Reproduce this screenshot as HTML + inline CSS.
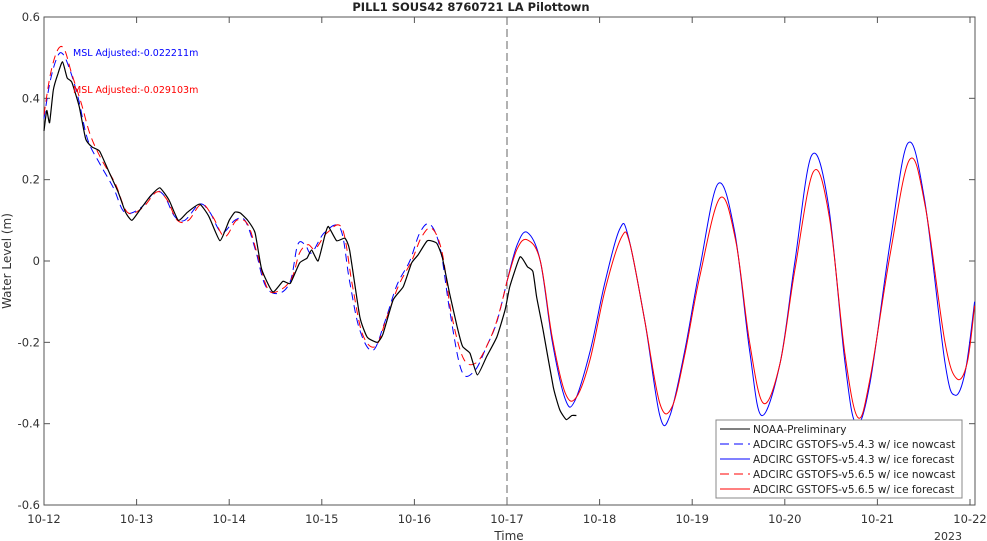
<!DOCTYPE html>
<html><head><meta charset="utf-8"><style>
body{margin:0;background:#fff;}
svg{display:block;font-family:"DejaVu Sans","Liberation Sans",sans-serif;}
</style></head><body>
<svg id="chart" width="987" height="541">
<rect width="987" height="541" fill="#fff"/>
<text x="471" y="11" text-anchor="middle" font-size="11.5" font-weight="bold" fill="#222">PILL1 SOUS42 8760721 LA Pilottown</text>
<text transform="translate(11,261) rotate(-90)" text-anchor="middle" font-size="12" fill="#333">Water Level (m)</text>
<text x="509" y="540" text-anchor="middle" font-size="12" fill="#333">Time</text>
<text x="948" y="540" text-anchor="middle" font-size="11" fill="#333">2023</text>
<g id="axes"></g>
<g id="series"></g>
<text x="73" y="56" font-size="9.5" fill="#0000ff">MSL Adjusted:-0.022211m</text>
<text x="73" y="93" font-size="9.5" fill="#ff0000">MSL Adjusted:-0.029103m</text>
<g>
<rect x="716" y="420" width="246" height="78" fill="#fff" stroke="#888" stroke-width="1"/>
<line x1="720" y1="429" x2="750" y2="429" stroke="#000"/><text x="753" y="433" font-size="10.5" fill="#222">NOAA-Preliminary</text>
<line x1="720" y1="444" x2="750" y2="444" stroke="#00f" stroke-dasharray="9,5"/><text x="753" y="448" font-size="10.5" fill="#222">ADCIRC GSTOFS-v5.4.3 w/ ice nowcast</text>
<line x1="720" y1="459" x2="750" y2="459" stroke="#00f"/><text x="753" y="463" font-size="10.5" fill="#222">ADCIRC GSTOFS-v5.4.3 w/ ice forecast</text>
<line x1="720" y1="474" x2="750" y2="474" stroke="#f00" stroke-dasharray="9,5"/><text x="753" y="478" font-size="10.5" fill="#222">ADCIRC GSTOFS-v5.6.5 w/ ice nowcast</text>
<line x1="720" y1="489" x2="750" y2="489" stroke="#f00"/><text x="753" y="493" font-size="10.5" fill="#222">ADCIRC GSTOFS-v5.6.5 w/ ice forecast</text>
</g>
</svg>
<script>
const xTickLabels=["10-12","10-13","10-14","10-15","10-16","10-17","10-18","10-19","10-20","10-21","10-22"];
const yTicks=[-0.6,-0.4,-0.2,0,0.2,0.4,0.6];
const blueNowT=[0,0.065,0.14,0.2,0.28,0.37,0.47,0.6,0.75,0.87,1.04,1.2,1.3,1.41,1.52,1.68,1.79,1.92,2.06,2.17,2.28,2.39,2.53,2.66,2.74,2.82,2.89,3.03,3.2,3.3,3.41,3.55,3.68,3.81,3.95,4.06,4.17,4.28,4.38,4.51,4.65,4.78,4.89,5.0];
const blueNowV=[0.35,0.44,0.5,0.51,0.47,0.4,0.3,0.24,0.18,0.12,0.13,0.17,0.16,0.11,0.1,0.14,0.12,0.07,0.1,0.1,0.03,-0.06,-0.08,-0.05,0.04,0.04,0.02,0.07,0.08,-0.05,-0.17,-0.22,-0.15,-0.06,0.0,0.07,0.09,0.03,-0.12,-0.27,-0.27,-0.21,-0.15,-0.05];
const redNowT=[0,0.07,0.15,0.22,0.3,0.4,0.5,0.62,0.77,0.9,1.06,1.22,1.33,1.44,1.56,1.7,1.82,1.95,2.08,2.2,2.3,2.42,2.56,2.68,2.76,2.85,2.93,3.06,3.22,3.33,3.44,3.58,3.7,3.83,3.97,4.08,4.19,4.3,4.4,4.53,4.67,4.8,4.9,5.0];
const redNowV=[0.36,0.46,0.52,0.52,0.46,0.39,0.31,0.25,0.19,0.12,0.13,0.17,0.15,0.1,0.1,0.14,0.11,0.06,0.1,0.09,0.02,-0.07,-0.07,-0.04,0.02,0.04,0.03,0.07,0.08,-0.06,-0.18,-0.21,-0.14,-0.06,0.0,0.06,0.08,0.02,-0.13,-0.24,-0.25,-0.2,-0.14,-0.05];
const blueFcT=[5.0,5.11,5.22,5.36,5.49,5.63,5.73,5.9,6.06,6.22,6.31,6.49,6.65,6.76,6.92,7.08,7.28,7.46,7.62,7.75,7.95,8.11,8.29,8.47,8.65,8.77,8.92,9.14,9.33,9.51,9.73,9.84,9.95,10.05];
const blueFcV=[-0.05,0.04,0.07,0.0,-0.2,-0.34,-0.345,-0.22,-0.05,0.08,0.06,-0.15,-0.38,-0.38,-0.22,-0.02,0.19,0.07,-0.22,-0.38,-0.25,0.0,0.26,0.14,-0.25,-0.4,-0.3,0.05,0.29,0.15,-0.25,-0.33,-0.27,-0.1];
const redFcT=[5.0,5.11,5.22,5.36,5.49,5.63,5.75,5.9,6.06,6.24,6.33,6.49,6.65,6.78,6.92,7.08,7.3,7.47,7.62,7.77,7.95,8.11,8.31,8.48,8.65,8.79,8.92,9.14,9.35,9.52,9.73,9.86,9.97,10.05];
const redFcV=[-0.05,0.03,0.052,0.0,-0.19,-0.325,-0.335,-0.24,-0.07,0.06,0.04,-0.15,-0.35,-0.36,-0.23,-0.04,0.155,0.05,-0.2,-0.35,-0.25,-0.02,0.22,0.11,-0.23,-0.385,-0.29,0.02,0.25,0.13,-0.2,-0.29,-0.25,-0.11];
const obsT=[0,0.03,0.06,0.1,0.15,0.2,0.25,0.3,0.38,0.45,0.52,0.6,0.7,0.8,0.88,0.95,1.05,1.15,1.25,1.35,1.45,1.55,1.68,1.78,1.9,2.0,2.06,2.12,2.2,2.28,2.35,2.47,2.58,2.66,2.76,2.84,2.89,2.96,3.03,3.07,3.16,3.25,3.3,3.41,3.49,3.6,3.66,3.77,3.88,3.97,4.04,4.14,4.24,4.3,4.38,4.46,4.52,4.6,4.68,4.78,4.89,4.98,5.03,5.14,5.22,5.28,5.32,5.39,5.5,5.57,5.64,5.7,5.75];
const obsV=[0.32,0.37,0.34,0.42,0.46,0.49,0.45,0.44,0.38,0.3,0.28,0.27,0.22,0.17,0.12,0.1,0.13,0.16,0.18,0.15,0.1,0.12,0.14,0.11,0.05,0.1,0.12,0.118,0.1,0.069,-0.02,-0.076,-0.05,-0.055,-0.005,0.007,0.027,0.0,0.06,0.085,0.05,0.056,0.027,-0.137,-0.187,-0.2,-0.18,-0.096,-0.063,-0.005,0.015,0.05,0.044,0.01,-0.08,-0.16,-0.21,-0.227,-0.28,-0.235,-0.187,-0.12,-0.063,0.01,-0.014,-0.026,-0.088,-0.17,-0.31,-0.366,-0.39,-0.38,-0.38];

const X0=44,DX=92.6,Y0=261,SY=406.7;
const xs=d=>X0+d*DX, ys=v=>Y0-v*SY;
const NS="http://www.w3.org/2000/svg";
const ax=document.getElementById('axes'), se=document.getElementById('series');
function mk(tag,attrs,parent){const e=document.createElementNS(NS,tag);for(const k in attrs)e.setAttribute(k,attrs[k]);parent.appendChild(e);return e;}
const fr=mk('rect',{x:44,y:17,width:931,height:488,fill:'none',stroke:'#555','stroke-width':1},ax);


xTickLabels.forEach((l,i)=>{const x=xs(i);
 mk('line',{x1:x,y1:505,x2:x,y2:499,stroke:'#555'},ax);
 mk('line',{x1:x,y1:17,x2:x,y2:23,stroke:'#555'},ax);
 const t=mk('text',{x:x,y:523,'text-anchor':'middle','font-size':11.5,fill:'#333'},ax);t.textContent=l;
 
 });
yTicks.forEach(v=>{const y=ys(v);
 mk('line',{x1:44,y1:y,x2:50,y2:y,stroke:'#555'},ax);
 mk('line',{x1:975,y1:y,x2:969,y2:y,stroke:'#555'},ax);
 const t=mk('text',{x:40,y:y+4,'text-anchor':'end','font-size':11.5,fill:'#333'},ax);t.textContent=(v===0?'0':v.toFixed(1));
 
 });
const vl=mk('line',{x1:xs(5),y1:17,x2:xs(5),y2:505,stroke:'#666','stroke-dasharray':'8,4'},ax);


function smoothPath(P,k){let d='M'+P[0][0].toFixed(1)+','+P[0][1].toFixed(1);
 for(let i=0;i<P.length-1;i++){const p0=P[i-1]||P[i],p1=P[i],p2=P[i+1],p3=P[i+2]||p2;
  const c1=[p1[0]+(p2[0]-p0[0])*k,p1[1]+(p2[1]-p0[1])*k],c2=[p2[0]-(p3[0]-p1[0])*k,p2[1]-(p3[1]-p1[1])*k];
  d+=' C'+c1.map(v=>v.toFixed(1))+' '+c2.map(v=>v.toFixed(1))+' '+p2[0].toFixed(1)+','+p2[1].toFixed(1);}
 return d;}
function line(T,V,color,dash,w,name,k){const P=T.map((t,i)=>[xs(t),ys(V[i])]);
 const p=mk('path',{d:smoothPath(P,k),fill:'none',stroke:color,'stroke-width':w,'stroke-linejoin':'round'},se);
 if(dash)p.setAttribute('stroke-dasharray',dash);
 
 }
line(blueNowT,blueNowV,'#0000ff','8,5',1,'series-v543-nowcast',0.17);
line(redNowT,redNowV,'#ff0000','8,5',1,'series-v565-nowcast',0.17);
line(blueFcT,blueFcV,'#0000ff',null,1,'series-v543-forecast',0.17);
line(redFcT,redFcV,'#ff0000',null,1,'series-v565-forecast',0.17);
line(obsT,obsV,'#000',null,1.2,'series-noaa-observed',0.08);
</script>
</body></html>
